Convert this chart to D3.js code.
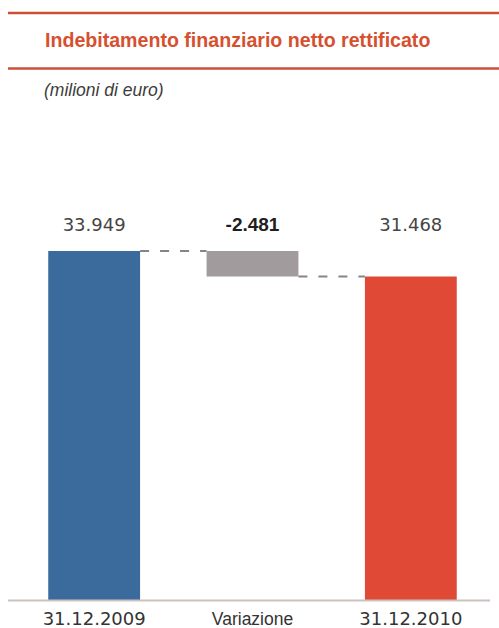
<!DOCTYPE html>
<html>
<head>
<meta charset="utf-8">
<script src="https://cdn.jsdelivr.net/npm/d3@7"></script>
<style>
  html, body { margin: 0; padding: 0; background: #fff; }
  svg { display: block; }
</style>
</head>
<body>
<div id="chart"></div>
<script>
// Net adjusted financial debt: opening value, change, closing value (million euro)
const categories = ["31.12.2009", "Variazione", "31.12.2010"];
const values = [33949, -2481, 31468];
const valueLabels = ["33.949", "-2.481", "31.468"];
const title = "Indebitamento finanziario netto rettificato";
const subtitle = "(milioni di euro)";

const W = 499, H = 628;
const svg = d3.select("#chart").append("svg")
  .attr("width", W).attr("height", H);

// Waterfall segments: start/end for each step
let running = 0;
const segs = categories.map((c, i) => {
  let y0, y1;
  if (i === categories.length - 1) { y0 = 0; y1 = values[i]; }
  else if (i === 0) { y0 = 0; y1 = values[i]; running = values[i]; }
  else { y0 = running; y1 = running + values[i]; running = y1; }
  return { cat: c, value: values[i], label: valueLabels[i], lo: Math.min(y0, y1), hi: Math.max(y0, y1), end: y1 };
});

const x = d3.scaleBand().domain(categories).range([15, 490])
  .paddingInner(0.42).paddingOuter(0.21);
const y = d3.scaleLinear().domain([0, d3.max(values)]).range([600, 251]);

const colors = ["#3b6b9c", "#a19b9d", "#df4936"];

// Header rules and title
const rule = "#cc4f37";
svg.append("line").attr("x1", 8).attr("x2", W).attr("y1", 13).attr("y2", 13)
  .attr("stroke", rule).attr("stroke-width", 2.5);
svg.append("line").attr("x1", 8).attr("x2", W).attr("y1", 68.5).attr("y2", 68.5)
  .attr("stroke", rule).attr("stroke-width", 2.5);
svg.append("text").attr("x", 45).attr("y", 47)
  .attr("font-family", "Liberation Sans, Arial, sans-serif")
  .attr("font-weight", "bold").attr("font-size", 19.6)
  .attr("fill", "#d6502f").text(title);
svg.append("text").attr("x", 44).attr("y", 96)
  .attr("font-family", "Liberation Sans, Arial, sans-serif")
  .attr("font-style", "italic").attr("font-size", 17.5)
  .attr("fill", "#3c3c3c").text(subtitle);

// Bars
svg.selectAll("rect.bar").data(segs).enter().append("rect")
  .attr("class", "bar")
  .attr("x", d => x(d.cat))
  .attr("width", x.bandwidth())
  .attr("y", d => y(d.hi))
  .attr("height", d => y(d.lo) - y(d.hi))
  .attr("fill", (d, i) => colors[i]);

// Dashed connectors between consecutive steps
const links = segs.slice(0, -1).map((d, i) => ({
  x1: x(d.cat) + x.bandwidth(), x2: x(segs[i + 1].cat), v: d.end
}));
svg.selectAll("line.link").data(links).enter().append("line")
  .attr("class", "link")
  .attr("x1", d => d.x1).attr("x2", d => d.x2)
  .attr("y1", d => y(d.v)).attr("y2", d => y(d.v))
  .attr("stroke", "#858585").attr("stroke-width", 2.2)
  .attr("stroke-dasharray", "9,11");

// Value labels
svg.selectAll("text.val").data(segs).enter().append("text")
  .attr("class", "val")
  .attr("x", d => x(d.cat) + x.bandwidth() / 2)
  .attr("y", 231)
  .attr("text-anchor", "middle")
  .attr("font-family", d => d.value < 0 ? "Liberation Sans, Arial, sans-serif" : "DejaVu Sans, sans-serif")
  .attr("font-weight", d => d.value < 0 ? "bold" : "normal")
  .attr("font-size", d => d.value < 0 ? 19 : 18)
  .attr("fill", d => d.value < 0 ? "#1e1e1e" : "#454545")
  .text(d => d.label);

// Baseline axis
const axis = svg.append("g").attr("transform", "translate(0,600.5)")
  .call(d3.axisBottom(x).tickSize(0).tickPadding(0));
axis.select(".domain").remove();
svg.append("line").attr("x1", 8).attr("x2", 490).attr("y1", 600.5).attr("y2", 600.5)
  .attr("stroke", "#cbc2be").attr("stroke-width", 2);
axis.selectAll(".tick text")
  .attr("dy", 0).attr("y", 24.5)
  .attr("font-family", d => d === "Variazione" ? "Liberation Sans, Arial, sans-serif" : "DejaVu Sans, sans-serif")
  .attr("font-size", d => d === "Variazione" ? 17.5 : 18)
  .attr("fill", "#333");
</script>
</body>
</html>
